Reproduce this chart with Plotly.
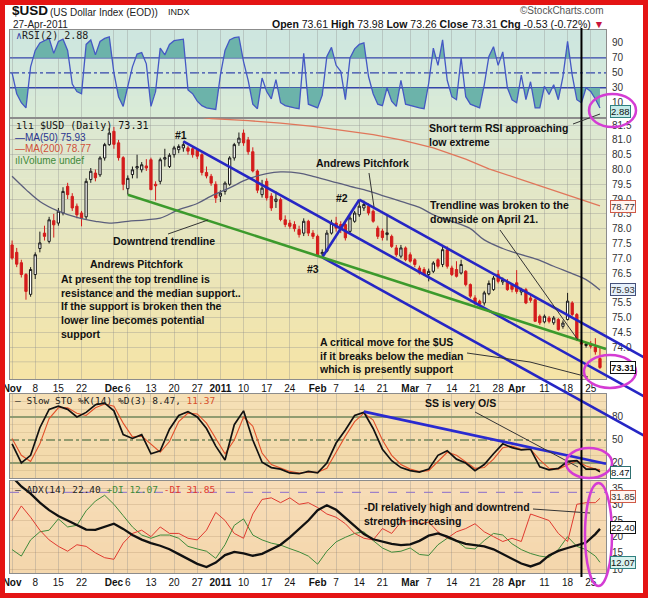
import pandas as pd
import plotly.graph_objects as go

# ---------------- data ----------------
dates = pd.bdate_range("2010-11-01", "2011-04-27").strftime("%Y-%m-%d").tolist()

price_open = [77.45, 77.2, 76.85, 76.45, 75.78, 76.45, 77.33, 77.85, 77.57, 78.27,
              78.19, 78.53, 79.43, 79.09, 78.76, 78.53, 78.4, 79.66, 79.88, 79.82,
              80.39, 80.84, 81.29, 80.9, 80.4, 79.35, 79.83, 80.05, 79.99, 80.12,
              80.33, 79.5, 79.6, 80.35, 80.1, 80.5, 80.67, 80.73, 80.73, 80.7,
              80.65, 80.5, 79.9, 79.77, 79.5, 79.1, 79.26, 79.5, 80.39, 80.9,
              81.23, 81.0, 80.6, 79.95, 79.15, 79.6, 79.1, 78.92, 78.98, 78.3,
              78.19, 78.14, 77.97, 77.85, 78.25, 77.85, 77.74, 77.15, 77.24, 77.85,
              78.19, 78.14, 78.14, 77.91, 78.25, 78.47, 78.7, 78.76, 78.59, 78.02,
              77.92, 77.8, 77.74, 77.35, 77.07, 77.35, 77.12, 76.95, 76.67, 76.62,
              76.45, 76.56, 76.95, 76.79, 77.29, 76.67, 76.62, 76.5, 76.56, 76.11,
              75.66, 75.55, 75.49, 75.8, 75.94, 76.45, 76.2, 76.22, 76.1, 76.17,
              75.86, 75.94, 75.66, 75.6, 75.04, 74.85, 74.98, 74.82, 74.93, 74.7,
              74.93, 75.49, 75.1, 74.2, 74.05, 74.08, 74.0, 73.61]
price_high = [77.6, 77.35, 76.95, 76.5, 76.7, 77.2, 77.9, 78.1, 78.4, 78.5,
              78.7, 79.4, 79.55, 79.2, 78.85, 78.6, 79.7, 80.05, 80.0, 80.45,
              80.9, 81.4, 81.44, 81.0, 80.45, 79.8, 80.1, 80.5, 80.25, 80.35,
              80.4, 79.6, 80.4, 80.7, 80.55, 80.8, 80.85, 80.95, 80.8, 80.78,
              80.7, 80.55, 80.1, 79.85, 79.6, 79.3, 79.6, 80.45, 80.9, 81.25,
              81.35, 81.1, 80.75, 80.0, 79.65, 79.7, 79.2, 79.26, 79.05, 78.45,
              78.3, 78.25, 78.1, 78.35, 78.3, 77.95, 77.8, 77.3, 77.95, 78.3,
              78.4, 78.25, 78.2, 78.45, 78.6, 78.98, 78.95, 78.85, 78.65, 78.1,
              78.0, 78.47, 77.8, 77.45, 77.45, 77.4, 77.2, 77.0, 76.75, 76.7,
              76.65, 76.9, 77.0, 77.4, 77.4, 76.75, 76.9, 76.95, 76.6, 76.15,
              75.75, 75.6, 75.9, 76.25, 76.4, 76.6, 76.35, 76.3, 76.15, 76.6,
              76.0, 76.0, 75.75, 75.65, 75.1, 75.1, 75.05, 75.05, 74.98, 74.9,
              75.83, 75.55, 75.15, 74.25, 74.15, 74.2, 74.3, 73.98]
price_low = [76.95, 76.7, 76.35, 75.6, 75.7, 76.3, 77.2, 77.6, 77.5, 77.7,
             78.1, 78.45, 79.0, 78.6, 78.35, 78.08, 78.3, 79.55, 79.6, 79.75,
             80.3, 80.8, 80.7, 80.3, 79.3, 79.15, 79.7, 79.7, 79.9, 79.95,
             79.3, 78.95, 79.5, 80.1, 80.05, 80.4, 80.55, 80.6, 80.5, 80.4,
             80.35, 79.8, 79.7, 79.45, 78.87, 78.9, 79.15, 79.45, 80.3, 80.8,
             80.8, 80.5, 79.9, 79.2, 79.05, 78.95, 78.6, 78.7, 78.25, 78.05,
             78.0, 77.9, 77.7, 77.75, 77.75, 77.65, 77.05, 77.03, 77.2, 77.8,
             77.9, 77.85, 77.6, 77.85, 78.2, 78.4, 78.6, 78.45, 78.2, 77.65,
             77.6, 77.6, 77.35, 77.05, 77.0, 76.9, 76.85, 76.7, 76.45, 76.4,
             76.22, 76.5, 76.65, 76.7, 76.65, 76.4, 76.35, 76.45, 76.05, 75.65,
             75.42, 75.37, 75.4, 75.75, 75.9, 76.15, 76.1, 75.9, 75.85, 75.8,
             75.75, 75.45, 75.5, 74.85, 74.75, 74.8, 74.8, 74.75, 74.55, 74.62,
             74.9, 75.05, 74.2, 74.0, 73.98, 73.95, 73.74, 73.26]
price_close = [77.01, 76.8, 76.45, 75.88, 76.62, 77.12, 77.52, 77.74, 78.3, 78.13,
               78.59, 79.26, 79.15, 78.7, 78.47, 78.36, 79.6, 79.94, 79.72, 80.39,
               80.84, 81.23, 80.85, 80.4, 79.5, 79.7, 79.99, 80.1, 80.16, 80.05,
               79.32, 79.45, 80.33, 80.4, 80.48, 80.73, 80.78, 80.84, 80.62, 80.5,
               80.45, 79.9, 79.78, 79.54, 79.04, 79.2, 79.54, 80.39, 80.84, 81.06,
               80.9, 80.6, 79.95, 79.3, 79.37, 79.04, 78.7, 79.0, 78.31, 78.14,
               78.08, 78.0, 77.8, 78.25, 77.85, 77.74, 77.12, 77.2, 77.85, 78.19,
               78.02, 77.97, 77.69, 78.36, 78.53, 78.76, 78.82, 78.53, 78.25, 77.74,
               77.7, 77.86, 77.4, 77.12, 77.35, 76.95, 76.9, 76.79, 76.5, 76.45,
               76.56, 76.84, 76.73, 77.29, 76.73, 76.45, 76.39, 76.79, 76.11, 75.72,
               75.49, 75.45, 75.83, 76.15, 76.33, 76.22, 76.28, 75.94, 75.95, 75.88,
               75.94, 75.49, 75.58, 74.87, 74.82, 75.04, 74.87, 74.98, 74.59, 74.81,
               75.55, 75.1, 74.25, 74.1, 74.1, 74.03, 73.84, 73.31]

rsi2 = [50, 22, 10, 3, 58, 80, 90, 93, 96, 76,
        92, 95, 80, 35, 25, 22, 88, 94, 74, 92,
        96, 98, 50, 18, 5, 32, 58, 75, 77, 62,
        5, 25, 83, 74, 88, 93, 94, 95, 27, 22,
        12, 6, 3, 2, 1, 47, 80, 94, 97, 98,
        65, 40, 8, 2, 43, 25, 15, 41, 10, 6,
        4, 3, 2, 76, 8, 5, 3, 20, 72, 84,
        60, 52, 14, 70, 82, 88, 90, 45, 22, 8,
        6, 30, 12, 5, 40, 8, 6, 4, 3, 2,
        36, 83, 60, 94, 40, 18, 14, 70, 18, 8,
        5, 3, 34, 72, 85, 60, 78, 30, 14, 10,
        47, 14, 38, 3, 3, 32, 21, 34, 14, 45,
        92, 47, 14, 10, 30, 25, 15, 2.88]

# smoother indicators were read every second trading day
ind_days = list(range(0, 128, 2)) + [127]
sto_k = [45, 20, 30, 66, 90, 94, 90, 80, 86, 96,
         98, 88, 57, 52, 57, 32, 36, 64, 82, 87,
         80, 65, 42, 24, 70, 88, 50, 21, 14, 12,
         7, 6, 9, 7, 20, 46, 63, 82, 86, 65,
         38, 23, 14, 10, 8, 12, 30, 36, 25, 20,
         10, 18, 32, 45, 40, 37, 38, 15, 11, 13,
         22, 23, 12, 12, 8.47]
sto_d = [52, 30, 22, 45, 78, 92, 92, 85, 82, 92,
         97, 94, 72, 54, 55, 45, 34, 48, 74, 85,
         84, 72, 52, 32, 50, 80, 68, 33, 18, 13,
         9, 7, 8, 8, 13, 34, 55, 74, 85, 76,
         50, 30, 18, 12, 9, 10, 22, 34, 30, 22,
         13, 14, 25, 40, 42, 38, 38, 24, 13, 12,
         18, 23, 16, 12, 11.37]
adx = [38.5, 35.5, 33.3, 30.5, 28.2, 26.4, 25.0, 23.5, 22.2, 22.1,
       23.0, 24.0, 22.4, 20.5, 19.1, 18.0, 17.2, 16.1, 14.6, 13.1,
       11.6, 10.6, 12.0, 14.3, 15.3, 14.8, 14.1, 14.7, 16.2, 17.5,
       19.8, 22.4, 25.0, 28.2, 29.7, 28.3, 25.9, 23.3, 20.8, 19.2,
       18.5, 17.8, 17.4, 17.6, 18.7, 20.3, 21.0, 20.0, 18.7, 17.8,
       17.4, 17.0, 16.1, 14.7, 13.2, 11.7, 10.8, 11.8, 14.2, 15.6,
       16.5, 17.3, 18.2, 20.8, 22.4]
plus_di = [16, 14, 19, 21.5, 22, 25.5, 23, 23.5, 28, 31,
           32.8, 30, 26.5, 23, 20.5, 19.5, 20.5, 20.5, 19.5, 17,
           16.2, 15.5, 13.3, 17.5, 23.5, 25.5, 20.5, 19, 18, 17.4,
           16.3, 15.3, 14, 11.5, 15.5, 18.4, 19.8, 21, 21.5, 18.8,
           16.5, 15.2, 15.5, 16.5, 14.5, 14.2, 17.5, 19.5, 18.7, 16.5,
           16.2, 18.8, 21, 20.5, 17.8, 16, 14.8, 14, 13.6, 16,
           20, 17, 16, 14, 12.07]
minus_di = [25, 29.5, 26, 22, 19, 17, 15.5, 17.5, 17, 15,
            13.5, 13, 18, 21, 22, 20, 23, 21, 21, 19.5,
            19, 22, 27.5, 25, 21, 19.5, 27, 31.5, 32, 30.5,
            32, 30, 30.5, 29, 27, 26, 24, 21, 19.5, 19,
            22.5, 21, 24.5, 25, 24, 24.5, 21.5, 19.5, 21.5, 22.5,
            24, 21.5, 20, 18.5, 19.5, 18.5, 27, 26, 25, 21,
            18.5, 30, 30.5, 30.5, 31.85]

ma50_days = [0, 3, 6, 10, 14, 18, 21, 25, 29, 32, 36, 40, 43, 47, 51, 55, 58, 62,
             65, 69, 73, 76, 80, 84, 88, 91, 95, 99, 102, 106, 110, 114, 117, 121, 124, 127]
ma50 = [79.77, 79.32, 78.92, 78.59, 78.38, 78.25, 78.19, 78.25, 78.3, 78.36, 78.64, 78.85,
        79.1, 79.38, 79.68, 79.86, 79.92, 79.88, 79.77, 79.6, 79.43, 79.32, 79.12, 78.92,
        78.72, 78.47, 78.25, 78.0, 77.62, 77.33, 77.12, 76.93, 76.73, 76.48, 76.28, 75.93]
ma200_days = [0, 15, 30, 43, 51, 58, 65, 73, 78, 84, 91, 98, 103, 110, 117, 127]
ma200 = [82.75, 82.4, 82.0, 81.72, 81.65, 81.57, 81.46, 81.3, 81.18, 81.0, 80.73,
         80.35, 80.02, 79.66, 79.3, 78.77]

tick_dates = ["2010-11-01", "2010-11-08", "2010-11-15", "2010-11-22", "2010-12-01",
              "2010-12-06", "2010-12-13", "2010-12-20", "2010-12-27", "2011-01-03",
              "2011-01-10", "2011-01-17", "2011-01-24", "2011-02-01", "2011-02-07",
              "2011-02-14", "2011-02-21", "2011-03-01", "2011-03-07", "2011-03-14",
              "2011-03-21", "2011-03-28", "2011-04-01", "2011-04-11", "2011-04-18",
              "2011-04-25"]
tick_text = ["<b>Nov</b>", "8", "15", "22", "<b>Dec</b>", "6", "13", "20", "27", "<b>2011</b>",
             "10", "17", "24", "<b>Feb</b>", "7", "14", "21", "<b>Mar</b>", "7", "14", "21",
             "28", "<b>Apr</b>", "11", "18", "25"]
price_ticks = [74.0, 74.5, 75.0, 75.5, 76.5, 77.0, 77.5, 78.0, 78.5, 79.0, 79.5,
               80.0, 80.5, 81.0, 81.5]

# pitchfork pivots (#1 high, #2 high, #3 low) and trendline anchor days
pf_day1, pf_day2, pf_day3 = "2010-12-22", "2011-02-14", "2011-02-02"
green_days = ["2010-12-06", "2011-02-02"]
break_day = "2011-04-21"
sto_tl_days = [76, 106]
sto_tl_vals = [87, 48]

# ---------------- geometry helpers ----------------
W, H = 648, 598
ML, MR, MT, MB = 10, 42, 30, 25
PW, PH = W - ML - MR, H - MT - MB
N = len(dates)
xs = list(range(N))
X0, X1 = -0.45, 128.3


def ppx(x):
    return (x - ML) / PW


def ppy(y):
    return (H - MB - y) / PH


def xi(i):
    return (i - X0) / (X1 - X0)


dom_rsi = [ppy(118), ppy(30)]
dom_px = [ppy(379), ppy(118)]
dom_sto = [ppy(478), ppy(394)]
dom_adx = [ppy(573), ppy(481)]
rng_rsi = [-10.5, 107.3]
rng_px = [72.92, 81.74]
rng_sto = [0.4, 110]
rng_adx = [8.77, 37.2]


def yv(v, dom, rng):
    return dom[0] + (v - rng[0]) / (rng[1] - rng[0]) * (dom[1] - dom[0])


shapes = []
annots = []


def pline(x0, y0, x1, y1, color, width, dash=None, layer="above"):
    ln = dict(color=color, width=width)
    if dash:
        ln["dash"] = dash
    shapes.append(dict(type="line", xref="paper", yref="paper", x0=x0, y0=y0,
                       x1=x1, y1=y1, line=ln, layer=layer))


def grad(ytop, ybot, ctop, cbot, n):
    for k in range(n):
        t = (k + 0.5) / n
        c = tuple(int(round(a + (b - a) * t)) for a, b in zip(ctop, cbot))
        ya = ytop + (ybot - ytop) * k / n
        yb = ytop + (ybot - ytop) * (k + 1) / n
        shapes.append(dict(type="rect", xref="paper", yref="paper", x0=0, x1=1,
                           y0=ppy(yb) - 0.001, y1=ppy(ya), fillcolor="rgb(%d,%d,%d)" % c,
                           line=dict(width=0), layer="below"))


grad(30, 118, (205, 230, 224), (218, 235, 214), 8)
grad(118, 379, (220, 232, 212), (245, 228, 166), 26)
grad(394, 478, (245, 224, 182), (242, 216, 168), 6)
grad(481, 573, (247, 221, 184), (244, 214, 172), 6)

# ---------------- traces ----------------
fig = go.Figure()


def band_fill(y, level, above):
    fx, fy = [], []
    for k in range(len(y)):
        if k > 0 and (y[k - 1] - level) * (y[k] - level) < 0:
            t = (level - y[k - 1]) / (y[k] - y[k - 1])
            fx.append(k - 1 + t)
            fy.append(level)
        fx.append(k)
        fy.append(max(y[k], level) if above else min(y[k], level))
    return fx, fy


TEAL = "#6cb3aa"
for lvl, above in ((70, True), (30, False)):
    fx, fy = band_fill(rsi2, lvl, above)
    fig.add_trace(go.Scatter(x=fx, y=[lvl] * len(fx), mode="lines", line=dict(width=0),
                             xaxis="x", yaxis="y", hoverinfo="skip"))
    fig.add_trace(go.Scatter(x=fx, y=fy, mode="lines", line=dict(width=0), fill="tonexty",
                             fillcolor=TEAL, xaxis="x", yaxis="y", hoverinfo="skip"))
fig.add_trace(go.Scatter(x=xs, y=rsi2, mode="lines", line=dict(color="#4458c4", width=1.3),
                         xaxis="x", yaxis="y", hoverinfo="skip"))

fig.add_trace(go.Scatter(x=ma200_days, y=ma200, mode="lines",
                         line=dict(color="#e0765a", width=1.3), xaxis="x2", yaxis="y2"))
fig.add_trace(go.Scatter(x=ma50_days, y=ma50, mode="lines",
                         line=dict(color="#5b5e7c", width=1.3, shape="spline"), xaxis="x2", yaxis="y2"))
fig.add_trace(go.Candlestick(x=xs, open=price_open, high=price_high, low=price_low,
                             close=price_close, xaxis="x2", yaxis="y2", whiskerwidth=0,
                             increasing=dict(line=dict(color="#1a1a1a", width=1), fillcolor="#ffffff"),
                             decreasing=dict(line=dict(color="#d41c1c", width=1), fillcolor="#d41c1c"),
                             hoverinfo="skip"))

fig.add_trace(go.Scatter(x=ind_days, y=sto_d, mode="lines", line=dict(color="#e2502a", width=1.1),
                         xaxis="x3", yaxis="y3"))
fig.add_trace(go.Scatter(x=ind_days, y=sto_k, mode="lines", line=dict(color="#111111", width=1.7),
                         xaxis="x3", yaxis="y3"))

fig.add_trace(go.Scatter(x=ind_days, y=plus_di, mode="lines", line=dict(color="#3f8a3a", width=1),
                         xaxis="x4", yaxis="y4"))
fig.add_trace(go.Scatter(x=ind_days, y=minus_di, mode="lines", line=dict(color="#e03a30", width=1),
                         xaxis="x4", yaxis="y4"))
fig.add_trace(go.Scatter(x=ind_days, y=adx, mode="lines", line=dict(color="#111111", width=2.3),
                         xaxis="x4", yaxis="y4"))

# ---------------- level lines ----------------
BL = "#3445aa"
for v, d in ((70, None), (30, None), (50, "dashdot")):
    pline(0, yv(v, dom_rsi, rng_rsi), 1, yv(v, dom_rsi, rng_rsi), BL, 1.3, d, "below")
GL = "#2f5a2f"
for v, d in ((80, None), (20, None), (50, "dashdot")):
    pline(0, yv(v, dom_sto, rng_sto), 1, yv(v, dom_sto, rng_sto), GL, 1.2, d, "below")
pline(0, yv(33.7, dom_adx, rng_adx), 1, yv(33.7, dom_adx, rng_adx), "#8a6ccc", 1, "dash", "below")
for v in (73.5, 76.0):
    pline(0, yv(v, dom_px, rng_px), 1, yv(v, dom_px, rng_px), "rgba(140,140,140,0.35)", 1, None, "below")

# ---------------- drawn trendlines (from pivots) ----------------
i1, i2, i3 = dates.index(pf_day1), dates.index(pf_day2), dates.index(pf_day3)
p1, p2, p3 = price_high[i1], price_high[i2], price_low[i3]
mid_i, mid_p = (i2 + i3) / 2, (p2 + p3) / 2
slope = (mid_p - p1) / (mid_i - i1)
i_end = X0 + ppx(644) * (X1 - X0)


def py_(p):
    return yv(p, dom_px, rng_px)


BLUE = "#2626c4"
for (ia, pa) in ((i1, p1), (i2, p2), (i3, p3)):
    pline(xi(ia), py_(pa), xi(i_end), py_(pa + slope * (i_end - ia)), BLUE, 2.6)
pline(xi(i3), py_(p3), xi(i2), py_(p2), BLUE, 2.6)

g0, g1 = dates.index(green_days[0]), dates.index(green_days[1])
gp0, gp1 = price_low[g0], price_low[g1]
gs = (gp1 - gp0) / (g1 - g0)
pline(xi(g0), py_(gp0), 1, py_(gp0 + gs * (X1 - g0)), "#3c9a2c", 2.6)

ss = (sto_tl_vals[1] - sto_tl_vals[0]) / (sto_tl_days[1] - sto_tl_days[0])
pline(xi(sto_tl_days[0]), yv(sto_tl_vals[0], dom_sto, rng_sto), 1,
      yv(sto_tl_vals[0] + ss * (X1 - sto_tl_days[0]), dom_sto, rng_sto), "#2a2ad0", 2.6)

ib = dates.index(break_day)
pline(xi(ib), ppy(28), xi(ib), ppy(577), "#000000", 2)

# pointer lines
PT = "#333333"
for (a, b, c, d) in ((168, 234, 208, 220), (369, 173, 374, 207), (573, 124, 600, 114),
                     (500, 230, 578, 340), (467, 353, 530, 362), (530, 362, 588, 377),
                     (475, 412, 578, 467), (533, 509, 590, 513)):
    pline(ppx(a), ppy(b), ppx(c), ppy(d), PT, 1)

# magenta ellipses
MAG = "#d43cd4"
for (a, b, c, d) in ((589, 94, 636, 127), (584, 355, 636, 388), (566, 448, 612, 478),
                     (585, 483, 612, 586)):
    shapes.append(dict(type="circle", xref="paper", yref="paper", x0=ppx(a), x1=ppx(c),
                       y0=ppy(d), y1=ppy(b), line=dict(color=MAG, width=2.5)))

# red frame
shapes.append(dict(type="rect", xref="paper", yref="paper", x0=ppx(2.5), x1=ppx(645.5),
                   y0=ppy(595.5), y1=ppy(2.5), line=dict(color="#e41414", width=5)))

# ---------------- texts ----------------
SANS = "Liberation Sans"
MONO = "DejaVu Sans Mono"


def txt(x, y, s, size=10.5, color="#111", bold=True, anchor="left", family=SANS, yanchor="middle",
        align="left"):
    annots.append(dict(xref="paper", yref="paper", x=ppx(x), y=ppy(y), text=("<b>%s</b>" % s) if bold else s,
                       showarrow=False, xanchor=anchor, yanchor=yanchor, align=align,
                       font=dict(family=family, size=size, color=color)))


txt(10, 11, "$USD", 13.5, "#111", True)
txt(48, 12, "(US Dollar Index (EOD))", 10, "#222", False)
txt(166, 12, "INDX", 9, "#222", False)
txt(11, 24, "27-Apr-2011", 10, "#222", False)
txt(606, 11, "©StockCharts.com", 10, "#555", False, anchor="right")
txt(606, 24, "<b>Open</b> 73.61 <b>High</b> 73.98 <b>Low</b> 73.26 <b>Close</b> 73.31 "
             "<b>Chg</b> -0.53 (-0.72%) <span style='color:#c8143c'>▼</span>",
    10.5, "#111", False, anchor="right")

txt(14, 36, "<span style='color:#3445aa'>∧</span>RSI(2) 2.88", 10, "#222", False, family=MONO)
txt(14, 125, "ılı $USD (Daily) 73.31", 10, "#111", False, family=MONO)
txt(13, 137, "<span style='color:#2a3590'>—</span>MA(50) 75.93", 10, "#2a3590", False)
txt(13, 148, "<span style='color:#d0503a'>—</span>MA(200) 78.77", 10, "#d0503a", False)
txt(13, 160, "ılıVolume undef", 10, "#3f8a3a", False)
txt(13, 400, "— Slow STO %K(14) %D(3) 8.47, <span style='color:#d8502a'>11.37</span>",
    9.5, "#222", False, family=MONO)
txt(13, 489, "— ADX(14) 22.40 <span style='color:#3f8a3a'>+DI 12.07</span> "
             "<span style='color:#e03a30'>-DI 31.85</span>", 9.5, "#222", False, family=MONO)

txt(181, 135, "#1", anchor="center")
txt(342, 198, "#2", anchor="center")
txt(313, 269, "#3", anchor="center")
txt(362, 163, "Andrews Pitchfork", anchor="center")
txt(427, 120, "Short term RSI approaching<br>low extreme", yanchor="top")
txt(428, 197, "Trendline was broken to the<br>downside on April 21.", yanchor="top")
txt(164, 241, "Downtrend trendline", anchor="center")
txt(136, 264, "Andrews Pitchfork", anchor="center")
txt(59, 271, "At present the top trendline is<br>resistance and the median support..<br>"
             "If the support is broken then the<br>lower line becomes potential<br>support", yanchor="top")
txt(317, 334, "A critical move for the $US<br>if it breaks below the median<br>which is presently support",
    yanchor="top")
txt(460, 403, "SS is very O/S", anchor="center")
txt(362, 499, "-DI relatively high and downtrend<br>strength increasing", yanchor="top")

# value boxes on the right axis


def vbox(v, yref, s, bg, border, color="#111", bold=False, yshift=0):
    annots.append(dict(xref="paper", yref=yref, x=ppx(610), y=v, text=("<b>%s</b>" % s) if bold else s,
                       showarrow=False, xanchor="left", yanchor="middle", yshift=yshift,
                       font=dict(family=SANS, size=9.5, color=color), bgcolor=bg,
                       bordercolor=border, borderwidth=1, borderpad=0))


vbox(2.88, "y", "2.88", "#c6ecea", "#2f8080", yshift=-3)
vbox(78.77, "y2", "78.77", "#fff4f0", "#d05a48", "#333", yshift=-1)
vbox(75.93, "y2", "75.93", "#e6f0fb", "#45507a", "#333")
vbox(73.31, "y2", "73.31", "#ffffff", "#111111", "#111", True)
vbox(8.47, "y3", "8.47", "#ffffff", "#2f7070", yshift=-1)
vbox(31.85, "y4", "31.85", "#fff4f0", "#d05a48", "#333", yshift=2)
vbox(22.40, "y4", "22.40", "#ffffff", "#111111", yshift=1)
vbox(12.07, "y4", "12.07", "#d8f2ee", "#2f8080")

# ---------------- axes ----------------
GRID = "rgba(140,140,140,0.35)"
FRAME = "#8c8c8c"
tickvals = [dates.index(d) for d in tick_dates]
xcommon = dict(range=[X0, X1], tickmode="array", tickvals=tickvals, ticktext=tick_text,
               showgrid=True, gridcolor=GRID, gridwidth=1, showline=True, mirror=True,
               linecolor=FRAME, linewidth=1, zeroline=False, ticks="", automargin=False,
               tickangle=0, tickfont=dict(family=SANS, size=10, color="#111"), fixedrange=True)
ycommon = dict(side="right", showline=True, mirror=True, linecolor=FRAME, linewidth=1,
               zeroline=False, ticks="outside", ticklen=3, tickcolor="rgba(0,0,0,0)",
               automargin=False, tickfont=dict(family=SANS, size=10, color="#333"),
               showgrid=True, gridcolor=GRID, fixedrange=True)

fig.update_layout(
    width=W, height=H, autosize=False, template="none",
    margin=dict(l=ML, r=MR, t=MT, b=MB, pad=0),
    paper_bgcolor="#ffffff", plot_bgcolor="rgba(0,0,0,0)", showlegend=False,
    xaxis=dict(xcommon, domain=[0, 1], anchor="y", showticklabels=False),
    xaxis2=dict(xcommon, domain=[0, 1], anchor="y2", showticklabels=True, matches="x",
                rangeslider=dict(visible=False)),
    xaxis3=dict(xcommon, domain=[0, 1], anchor="y3", showticklabels=False, matches="x"),
    xaxis4=dict(xcommon, domain=[0, 1], anchor="y4", showticklabels=True, matches="x"),
    yaxis=dict(ycommon, domain=dom_rsi, range=rng_rsi, anchor="x", tickmode="array",
               tickvals=[10, 30, 50, 70, 90], showgrid=False),
    yaxis2=dict(ycommon, domain=dom_px, range=rng_px, anchor="x2", tickmode="array",
                tickvals=price_ticks, ticktext=["%.1f" % v for v in price_ticks]),
    yaxis3=dict(ycommon, domain=dom_sto, range=rng_sto, anchor="x3", tickmode="array",
                tickvals=[20, 50, 80], showgrid=False,
                minor=dict(tickmode="array", tickvals=[10, 30, 40, 60, 70, 90, 100],
                           showgrid=True, gridcolor="rgba(150,120,80,0.18)", ticklen=0)),
    yaxis4=dict(ycommon, domain=dom_adx, range=rng_adx, anchor="x4", tickmode="array",
                tickvals=[10, 15, 20, 25, 30, 35], gridcolor="rgba(150,120,80,0.22)"),
    shapes=shapes, annotations=annots,
)

fig.write_html("out.html")
